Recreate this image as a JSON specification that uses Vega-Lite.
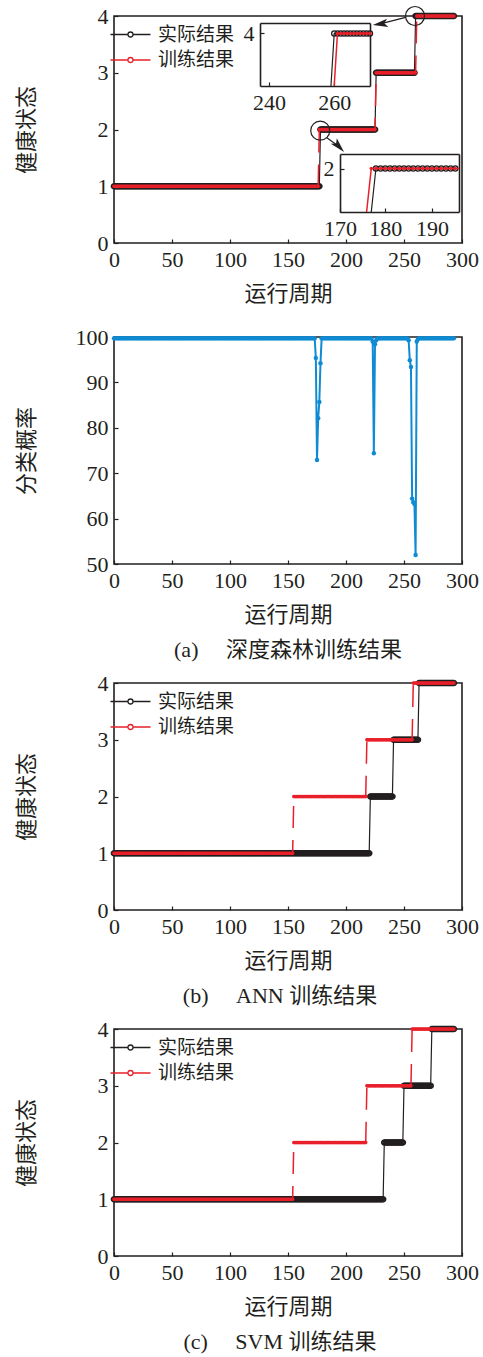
{
"$schema":"https://vega.github.io/schema/vega-lite/v6.json",
"background":"white",
"autosize":"pad",
"padding":{"left":14,"top":3,"right":5,"bottom":5},
"config":{
"view":{"stroke":"#231f20","strokeWidth":1.6},
"axis":{"labelFont":"Liberation Serif","labelFontSize":22,"labelColor":"#231f20","titleFont":"Noto Sans CJK SC","titleFontSize":22,"titleFontWeight":"normal","titleColor":"#231f20","tickColor":"#231f20","tickSize":-4,"tickWidth":1.2,"domain":false,"grid":false,"labelPadding":10,"labelFlush":false,"labelOverlap":false},
"legend":{"orient":"none","legendX":7,"legendY":9,"title":null,"padding":0,"labelFont":"Noto Sans CJK SC","labelFontSize":19,"labelColor":"#231f20","symbolType":"M-4,0H-0.5M0.5,0H4M-0.5,0A0.5,0.5,0,1,1,0.5,0A0.5,0.5,0,1,1,-0.5,0","symbolSize":100,"symbolStrokeWidth":1.3,"symbolOpacity":1,"symbolFillColor":"white","labelOffset":18,"rowPadding":5.5}
},
"datasets":{
"circ":[{"x":259.5,"y":4},{"x":177.8,"y":1.98}],
"arr":[{"x":251.4,"y":3.975,"x2":229.5,"y2":3.86},{"x":183.2,"y":1.86,"x2":193.9,"y2":1.7}],
"d":[
{"x":0,"a1":1,"t1":1,"a3":1,"t3":1,"a4":1,"t4":1,"p":99.7},
{"x":1,"a1":1,"t1":1,"a3":1,"t3":1,"a4":1,"t4":1,"p":99.7},
{"x":2,"a1":1,"t1":1,"a3":1,"t3":1,"a4":1,"t4":1,"p":99.7},
{"x":3,"a1":1,"t1":1,"a3":1,"t3":1,"a4":1,"t4":1,"p":99.7},
{"x":4,"a1":1,"t1":1,"a3":1,"t3":1,"a4":1,"t4":1,"p":99.7},
{"x":5,"a1":1,"t1":1,"a3":1,"t3":1,"a4":1,"t4":1,"p":99.7},
{"x":6,"a1":1,"t1":1,"a3":1,"t3":1,"a4":1,"t4":1,"p":99.7},
{"x":7,"a1":1,"t1":1,"a3":1,"t3":1,"a4":1,"t4":1,"p":99.7},
{"x":8,"a1":1,"t1":1,"a3":1,"t3":1,"a4":1,"t4":1,"p":99.7},
{"x":9,"a1":1,"t1":1,"a3":1,"t3":1,"a4":1,"t4":1,"p":99.7},
{"x":10,"a1":1,"t1":1,"a3":1,"t3":1,"a4":1,"t4":1,"p":99.7},
{"x":11,"a1":1,"t1":1,"a3":1,"t3":1,"a4":1,"t4":1,"p":99.7},
{"x":12,"a1":1,"t1":1,"a3":1,"t3":1,"a4":1,"t4":1,"p":99.7},
{"x":13,"a1":1,"t1":1,"a3":1,"t3":1,"a4":1,"t4":1,"p":99.7},
{"x":14,"a1":1,"t1":1,"a3":1,"t3":1,"a4":1,"t4":1,"p":99.7},
{"x":15,"a1":1,"t1":1,"a3":1,"t3":1,"a4":1,"t4":1,"p":99.7},
{"x":16,"a1":1,"t1":1,"a3":1,"t3":1,"a4":1,"t4":1,"p":99.7},
{"x":17,"a1":1,"t1":1,"a3":1,"t3":1,"a4":1,"t4":1,"p":99.7},
{"x":18,"a1":1,"t1":1,"a3":1,"t3":1,"a4":1,"t4":1,"p":99.7},
{"x":19,"a1":1,"t1":1,"a3":1,"t3":1,"a4":1,"t4":1,"p":99.7},
{"x":20,"a1":1,"t1":1,"a3":1,"t3":1,"a4":1,"t4":1,"p":99.7},
{"x":21,"a1":1,"t1":1,"a3":1,"t3":1,"a4":1,"t4":1,"p":99.7},
{"x":22,"a1":1,"t1":1,"a3":1,"t3":1,"a4":1,"t4":1,"p":99.7},
{"x":23,"a1":1,"t1":1,"a3":1,"t3":1,"a4":1,"t4":1,"p":99.7},
{"x":24,"a1":1,"t1":1,"a3":1,"t3":1,"a4":1,"t4":1,"p":99.7},
{"x":25,"a1":1,"t1":1,"a3":1,"t3":1,"a4":1,"t4":1,"p":99.7},
{"x":26,"a1":1,"t1":1,"a3":1,"t3":1,"a4":1,"t4":1,"p":99.7},
{"x":27,"a1":1,"t1":1,"a3":1,"t3":1,"a4":1,"t4":1,"p":99.7},
{"x":28,"a1":1,"t1":1,"a3":1,"t3":1,"a4":1,"t4":1,"p":99.7},
{"x":29,"a1":1,"t1":1,"a3":1,"t3":1,"a4":1,"t4":1,"p":99.7},
{"x":30,"a1":1,"t1":1,"a3":1,"t3":1,"a4":1,"t4":1,"p":99.7},
{"x":31,"a1":1,"t1":1,"a3":1,"t3":1,"a4":1,"t4":1,"p":99.7},
{"x":32,"a1":1,"t1":1,"a3":1,"t3":1,"a4":1,"t4":1,"p":99.7},
{"x":33,"a1":1,"t1":1,"a3":1,"t3":1,"a4":1,"t4":1,"p":99.7},
{"x":34,"a1":1,"t1":1,"a3":1,"t3":1,"a4":1,"t4":1,"p":99.7},
{"x":35,"a1":1,"t1":1,"a3":1,"t3":1,"a4":1,"t4":1,"p":99.7},
{"x":36,"a1":1,"t1":1,"a3":1,"t3":1,"a4":1,"t4":1,"p":99.7},
{"x":37,"a1":1,"t1":1,"a3":1,"t3":1,"a4":1,"t4":1,"p":99.7},
{"x":38,"a1":1,"t1":1,"a3":1,"t3":1,"a4":1,"t4":1,"p":99.7},
{"x":39,"a1":1,"t1":1,"a3":1,"t3":1,"a4":1,"t4":1,"p":99.7},
{"x":40,"a1":1,"t1":1,"a3":1,"t3":1,"a4":1,"t4":1,"p":99.7},
{"x":41,"a1":1,"t1":1,"a3":1,"t3":1,"a4":1,"t4":1,"p":99.7},
{"x":42,"a1":1,"t1":1,"a3":1,"t3":1,"a4":1,"t4":1,"p":99.7},
{"x":43,"a1":1,"t1":1,"a3":1,"t3":1,"a4":1,"t4":1,"p":99.7},
{"x":44,"a1":1,"t1":1,"a3":1,"t3":1,"a4":1,"t4":1,"p":99.7},
{"x":45,"a1":1,"t1":1,"a3":1,"t3":1,"a4":1,"t4":1,"p":99.7},
{"x":46,"a1":1,"t1":1,"a3":1,"t3":1,"a4":1,"t4":1,"p":99.7},
{"x":47,"a1":1,"t1":1,"a3":1,"t3":1,"a4":1,"t4":1,"p":99.7},
{"x":48,"a1":1,"t1":1,"a3":1,"t3":1,"a4":1,"t4":1,"p":99.7},
{"x":49,"a1":1,"t1":1,"a3":1,"t3":1,"a4":1,"t4":1,"p":99.7},
{"x":50,"a1":1,"t1":1,"a3":1,"t3":1,"a4":1,"t4":1,"p":99.7},
{"x":51,"a1":1,"t1":1,"a3":1,"t3":1,"a4":1,"t4":1,"p":99.7},
{"x":52,"a1":1,"t1":1,"a3":1,"t3":1,"a4":1,"t4":1,"p":99.7},
{"x":53,"a1":1,"t1":1,"a3":1,"t3":1,"a4":1,"t4":1,"p":99.7},
{"x":54,"a1":1,"t1":1,"a3":1,"t3":1,"a4":1,"t4":1,"p":99.7},
{"x":55,"a1":1,"t1":1,"a3":1,"t3":1,"a4":1,"t4":1,"p":99.7},
{"x":56,"a1":1,"t1":1,"a3":1,"t3":1,"a4":1,"t4":1,"p":99.7},
{"x":57,"a1":1,"t1":1,"a3":1,"t3":1,"a4":1,"t4":1,"p":99.7},
{"x":58,"a1":1,"t1":1,"a3":1,"t3":1,"a4":1,"t4":1,"p":99.7},
{"x":59,"a1":1,"t1":1,"a3":1,"t3":1,"a4":1,"t4":1,"p":99.7},
{"x":60,"a1":1,"t1":1,"a3":1,"t3":1,"a4":1,"t4":1,"p":99.7},
{"x":61,"a1":1,"t1":1,"a3":1,"t3":1,"a4":1,"t4":1,"p":99.7},
{"x":62,"a1":1,"t1":1,"a3":1,"t3":1,"a4":1,"t4":1,"p":99.7},
{"x":63,"a1":1,"t1":1,"a3":1,"t3":1,"a4":1,"t4":1,"p":99.7},
{"x":64,"a1":1,"t1":1,"a3":1,"t3":1,"a4":1,"t4":1,"p":99.7},
{"x":65,"a1":1,"t1":1,"a3":1,"t3":1,"a4":1,"t4":1,"p":99.7},
{"x":66,"a1":1,"t1":1,"a3":1,"t3":1,"a4":1,"t4":1,"p":99.7},
{"x":67,"a1":1,"t1":1,"a3":1,"t3":1,"a4":1,"t4":1,"p":99.7},
{"x":68,"a1":1,"t1":1,"a3":1,"t3":1,"a4":1,"t4":1,"p":99.7},
{"x":69,"a1":1,"t1":1,"a3":1,"t3":1,"a4":1,"t4":1,"p":99.7},
{"x":70,"a1":1,"t1":1,"a3":1,"t3":1,"a4":1,"t4":1,"p":99.7},
{"x":71,"a1":1,"t1":1,"a3":1,"t3":1,"a4":1,"t4":1,"p":99.7},
{"x":72,"a1":1,"t1":1,"a3":1,"t3":1,"a4":1,"t4":1,"p":99.7},
{"x":73,"a1":1,"t1":1,"a3":1,"t3":1,"a4":1,"t4":1,"p":99.7},
{"x":74,"a1":1,"t1":1,"a3":1,"t3":1,"a4":1,"t4":1,"p":99.7},
{"x":75,"a1":1,"t1":1,"a3":1,"t3":1,"a4":1,"t4":1,"p":99.7},
{"x":76,"a1":1,"t1":1,"a3":1,"t3":1,"a4":1,"t4":1,"p":99.7},
{"x":77,"a1":1,"t1":1,"a3":1,"t3":1,"a4":1,"t4":1,"p":99.7},
{"x":78,"a1":1,"t1":1,"a3":1,"t3":1,"a4":1,"t4":1,"p":99.7},
{"x":79,"a1":1,"t1":1,"a3":1,"t3":1,"a4":1,"t4":1,"p":99.7},
{"x":80,"a1":1,"t1":1,"a3":1,"t3":1,"a4":1,"t4":1,"p":99.7},
{"x":81,"a1":1,"t1":1,"a3":1,"t3":1,"a4":1,"t4":1,"p":99.7},
{"x":82,"a1":1,"t1":1,"a3":1,"t3":1,"a4":1,"t4":1,"p":99.7},
{"x":83,"a1":1,"t1":1,"a3":1,"t3":1,"a4":1,"t4":1,"p":99.7},
{"x":84,"a1":1,"t1":1,"a3":1,"t3":1,"a4":1,"t4":1,"p":99.7},
{"x":85,"a1":1,"t1":1,"a3":1,"t3":1,"a4":1,"t4":1,"p":99.7},
{"x":86,"a1":1,"t1":1,"a3":1,"t3":1,"a4":1,"t4":1,"p":99.7},
{"x":87,"a1":1,"t1":1,"a3":1,"t3":1,"a4":1,"t4":1,"p":99.7},
{"x":88,"a1":1,"t1":1,"a3":1,"t3":1,"a4":1,"t4":1,"p":99.7},
{"x":89,"a1":1,"t1":1,"a3":1,"t3":1,"a4":1,"t4":1,"p":99.7},
{"x":90,"a1":1,"t1":1,"a3":1,"t3":1,"a4":1,"t4":1,"p":99.7},
{"x":91,"a1":1,"t1":1,"a3":1,"t3":1,"a4":1,"t4":1,"p":99.7},
{"x":92,"a1":1,"t1":1,"a3":1,"t3":1,"a4":1,"t4":1,"p":99.7},
{"x":93,"a1":1,"t1":1,"a3":1,"t3":1,"a4":1,"t4":1,"p":99.7},
{"x":94,"a1":1,"t1":1,"a3":1,"t3":1,"a4":1,"t4":1,"p":99.7},
{"x":95,"a1":1,"t1":1,"a3":1,"t3":1,"a4":1,"t4":1,"p":99.7},
{"x":96,"a1":1,"t1":1,"a3":1,"t3":1,"a4":1,"t4":1,"p":99.7},
{"x":97,"a1":1,"t1":1,"a3":1,"t3":1,"a4":1,"t4":1,"p":99.7},
{"x":98,"a1":1,"t1":1,"a3":1,"t3":1,"a4":1,"t4":1,"p":99.7},
{"x":99,"a1":1,"t1":1,"a3":1,"t3":1,"a4":1,"t4":1,"p":99.7},
{"x":100,"a1":1,"t1":1,"a3":1,"t3":1,"a4":1,"t4":1,"p":99.7},
{"x":101,"a1":1,"t1":1,"a3":1,"t3":1,"a4":1,"t4":1,"p":99.7},
{"x":102,"a1":1,"t1":1,"a3":1,"t3":1,"a4":1,"t4":1,"p":99.7},
{"x":103,"a1":1,"t1":1,"a3":1,"t3":1,"a4":1,"t4":1,"p":99.7},
{"x":104,"a1":1,"t1":1,"a3":1,"t3":1,"a4":1,"t4":1,"p":99.7},
{"x":105,"a1":1,"t1":1,"a3":1,"t3":1,"a4":1,"t4":1,"p":99.7},
{"x":106,"a1":1,"t1":1,"a3":1,"t3":1,"a4":1,"t4":1,"p":99.7},
{"x":107,"a1":1,"t1":1,"a3":1,"t3":1,"a4":1,"t4":1,"p":99.7},
{"x":108,"a1":1,"t1":1,"a3":1,"t3":1,"a4":1,"t4":1,"p":99.7},
{"x":109,"a1":1,"t1":1,"a3":1,"t3":1,"a4":1,"t4":1,"p":99.7},
{"x":110,"a1":1,"t1":1,"a3":1,"t3":1,"a4":1,"t4":1,"p":99.7},
{"x":111,"a1":1,"t1":1,"a3":1,"t3":1,"a4":1,"t4":1,"p":99.7},
{"x":112,"a1":1,"t1":1,"a3":1,"t3":1,"a4":1,"t4":1,"p":99.7},
{"x":113,"a1":1,"t1":1,"a3":1,"t3":1,"a4":1,"t4":1,"p":99.7},
{"x":114,"a1":1,"t1":1,"a3":1,"t3":1,"a4":1,"t4":1,"p":99.7},
{"x":115,"a1":1,"t1":1,"a3":1,"t3":1,"a4":1,"t4":1,"p":99.7},
{"x":116,"a1":1,"t1":1,"a3":1,"t3":1,"a4":1,"t4":1,"p":99.7},
{"x":117,"a1":1,"t1":1,"a3":1,"t3":1,"a4":1,"t4":1,"p":99.7},
{"x":118,"a1":1,"t1":1,"a3":1,"t3":1,"a4":1,"t4":1,"p":99.7},
{"x":119,"a1":1,"t1":1,"a3":1,"t3":1,"a4":1,"t4":1,"p":99.7},
{"x":120,"a1":1,"t1":1,"a3":1,"t3":1,"a4":1,"t4":1,"p":99.7},
{"x":121,"a1":1,"t1":1,"a3":1,"t3":1,"a4":1,"t4":1,"p":99.7},
{"x":122,"a1":1,"t1":1,"a3":1,"t3":1,"a4":1,"t4":1,"p":99.7},
{"x":123,"a1":1,"t1":1,"a3":1,"t3":1,"a4":1,"t4":1,"p":99.7},
{"x":124,"a1":1,"t1":1,"a3":1,"t3":1,"a4":1,"t4":1,"p":99.7},
{"x":125,"a1":1,"t1":1,"a3":1,"t3":1,"a4":1,"t4":1,"p":99.7},
{"x":126,"a1":1,"t1":1,"a3":1,"t3":1,"a4":1,"t4":1,"p":99.7},
{"x":127,"a1":1,"t1":1,"a3":1,"t3":1,"a4":1,"t4":1,"p":99.7},
{"x":128,"a1":1,"t1":1,"a3":1,"t3":1,"a4":1,"t4":1,"p":99.7},
{"x":129,"a1":1,"t1":1,"a3":1,"t3":1,"a4":1,"t4":1,"p":99.7},
{"x":130,"a1":1,"t1":1,"a3":1,"t3":1,"a4":1,"t4":1,"p":99.7},
{"x":131,"a1":1,"t1":1,"a3":1,"t3":1,"a4":1,"t4":1,"p":99.7},
{"x":132,"a1":1,"t1":1,"a3":1,"t3":1,"a4":1,"t4":1,"p":99.7},
{"x":133,"a1":1,"t1":1,"a3":1,"t3":1,"a4":1,"t4":1,"p":99.7},
{"x":134,"a1":1,"t1":1,"a3":1,"t3":1,"a4":1,"t4":1,"p":99.7},
{"x":135,"a1":1,"t1":1,"a3":1,"t3":1,"a4":1,"t4":1,"p":99.7},
{"x":136,"a1":1,"t1":1,"a3":1,"t3":1,"a4":1,"t4":1,"p":99.7},
{"x":137,"a1":1,"t1":1,"a3":1,"t3":1,"a4":1,"t4":1,"p":99.7},
{"x":138,"a1":1,"t1":1,"a3":1,"t3":1,"a4":1,"t4":1,"p":99.7},
{"x":139,"a1":1,"t1":1,"a3":1,"t3":1,"a4":1,"t4":1,"p":99.7},
{"x":140,"a1":1,"t1":1,"a3":1,"t3":1,"a4":1,"t4":1,"p":99.7},
{"x":141,"a1":1,"t1":1,"a3":1,"t3":1,"a4":1,"t4":1,"p":99.7},
{"x":142,"a1":1,"t1":1,"a3":1,"t3":1,"a4":1,"t4":1,"p":99.7},
{"x":143,"a1":1,"t1":1,"a3":1,"t3":1,"a4":1,"t4":1,"p":99.7},
{"x":144,"a1":1,"t1":1,"a3":1,"t3":1,"a4":1,"t4":1,"p":99.7},
{"x":145,"a1":1,"t1":1,"a3":1,"t3":1,"a4":1,"t4":1,"p":99.7},
{"x":146,"a1":1,"t1":1,"a3":1,"t3":1,"a4":1,"t4":1,"p":99.7},
{"x":147,"a1":1,"t1":1,"a3":1,"t3":1,"a4":1,"t4":1,"p":99.7},
{"x":148,"a1":1,"t1":1,"a3":1,"t3":1,"a4":1,"t4":1,"p":99.7},
{"x":149,"a1":1,"t1":1,"a3":1,"t3":1,"a4":1,"t4":1,"p":99.7},
{"x":150,"a1":1,"t1":1,"a3":1,"t3":1,"a4":1,"t4":1,"p":99.7},
{"x":151,"a1":1,"t1":1,"a3":1,"t3":1,"a4":1,"t4":1,"p":99.7},
{"x":152,"a1":1,"t1":1,"a3":1,"t3":1,"a4":1,"t4":1,"p":99.7},
{"x":153,"a1":1,"t1":1,"a3":1,"t3":1,"a4":1,"t4":1,"p":99.7},
{"x":154,"a1":1,"t1":1,"a3":1,"t3":1,"a4":1,"t4":1,"p":99.7},
{"x":155,"a1":1,"t1":1,"a3":1,"t3":2,"a4":1,"t4":2,"p":99.7},
{"x":156,"a1":1,"t1":1,"a3":1,"t3":2,"a4":1,"t4":2,"p":99.7},
{"x":157,"a1":1,"t1":1,"a3":1,"t3":2,"a4":1,"t4":2,"p":99.7},
{"x":158,"a1":1,"t1":1,"a3":1,"t3":2,"a4":1,"t4":2,"p":99.7},
{"x":159,"a1":1,"t1":1,"a3":1,"t3":2,"a4":1,"t4":2,"p":99.7},
{"x":160,"a1":1,"t1":1,"a3":1,"t3":2,"a4":1,"t4":2,"p":99.7},
{"x":161,"a1":1,"t1":1,"a3":1,"t3":2,"a4":1,"t4":2,"p":99.7},
{"x":162,"a1":1,"t1":1,"a3":1,"t3":2,"a4":1,"t4":2,"p":99.7},
{"x":163,"a1":1,"t1":1,"a3":1,"t3":2,"a4":1,"t4":2,"p":99.7},
{"x":164,"a1":1,"t1":1,"a3":1,"t3":2,"a4":1,"t4":2,"p":99.7},
{"x":165,"a1":1,"t1":1,"a3":1,"t3":2,"a4":1,"t4":2,"p":99.7},
{"x":166,"a1":1,"t1":1,"a3":1,"t3":2,"a4":1,"t4":2,"p":99.7},
{"x":167,"a1":1,"t1":1,"a3":1,"t3":2,"a4":1,"t4":2,"p":99.7},
{"x":168,"a1":1,"t1":1,"a3":1,"t3":2,"a4":1,"t4":2,"p":99.7},
{"x":169,"a1":1,"t1":1,"a3":1,"t3":2,"a4":1,"t4":2,"p":99.7},
{"x":170,"a1":1,"t1":1,"a3":1,"t3":2,"a4":1,"t4":2,"p":99.7},
{"x":171,"a1":1,"t1":1,"a3":1,"t3":2,"a4":1,"t4":2,"p":99.7},
{"x":172,"a1":1,"t1":1,"a3":1,"t3":2,"a4":1,"t4":2,"p":99.7},
{"x":173,"a1":1,"t1":1,"a3":1,"t3":2,"a4":1,"t4":2,"p":99.7},
{"x":174,"a1":1,"t1":1,"a3":1,"t3":2,"a4":1,"t4":2,"p":95.4},
{"x":175,"a1":1,"t1":1,"a3":1,"t3":2,"a4":1,"t4":2,"p":72.9},
{"x":176,"a1":1,"t1":1,"a3":1,"t3":2,"a4":1,"t4":2,"p":82.1},
{"x":177,"a1":1,"t1":2,"a3":1,"t3":2,"a4":1,"t4":2,"p":85.7},
{"x":178,"a1":2,"t1":2,"a3":1,"t3":2,"a4":1,"t4":2,"p":94.2},
{"x":179,"a1":2,"t1":2,"a3":1,"t3":2,"a4":1,"t4":2,"p":99.7},
{"x":180,"a1":2,"t1":2,"a3":1,"t3":2,"a4":1,"t4":2,"p":99.7},
{"x":181,"a1":2,"t1":2,"a3":1,"t3":2,"a4":1,"t4":2,"p":99.7},
{"x":182,"a1":2,"t1":2,"a3":1,"t3":2,"a4":1,"t4":2,"p":99.7},
{"x":183,"a1":2,"t1":2,"a3":1,"t3":2,"a4":1,"t4":2,"p":99.7},
{"x":184,"a1":2,"t1":2,"a3":1,"t3":2,"a4":1,"t4":2,"p":99.7},
{"x":185,"a1":2,"t1":2,"a3":1,"t3":2,"a4":1,"t4":2,"p":99.7},
{"x":186,"a1":2,"t1":2,"a3":1,"t3":2,"a4":1,"t4":2,"p":99.7},
{"x":187,"a1":2,"t1":2,"a3":1,"t3":2,"a4":1,"t4":2,"p":99.7},
{"x":188,"a1":2,"t1":2,"a3":1,"t3":2,"a4":1,"t4":2,"p":99.7},
{"x":189,"a1":2,"t1":2,"a3":1,"t3":2,"a4":1,"t4":2,"p":99.7},
{"x":190,"a1":2,"t1":2,"a3":1,"t3":2,"a4":1,"t4":2,"p":99.7},
{"x":191,"a1":2,"t1":2,"a3":1,"t3":2,"a4":1,"t4":2,"p":99.7},
{"x":192,"a1":2,"t1":2,"a3":1,"t3":2,"a4":1,"t4":2,"p":99.7},
{"x":193,"a1":2,"t1":2,"a3":1,"t3":2,"a4":1,"t4":2,"p":99.7},
{"x":194,"a1":2,"t1":2,"a3":1,"t3":2,"a4":1,"t4":2,"p":99.7},
{"x":195,"a1":2,"t1":2,"a3":1,"t3":2,"a4":1,"t4":2,"p":99.7},
{"x":196,"a1":2,"t1":2,"a3":1,"t3":2,"a4":1,"t4":2,"p":99.7},
{"x":197,"a1":2,"t1":2,"a3":1,"t3":2,"a4":1,"t4":2,"p":99.7},
{"x":198,"a1":2,"t1":2,"a3":1,"t3":2,"a4":1,"t4":2,"p":99.7},
{"x":199,"a1":2,"t1":2,"a3":1,"t3":2,"a4":1,"t4":2,"p":99.7},
{"x":200,"a1":2,"t1":2,"a3":1,"t3":2,"a4":1,"t4":2,"p":99.7},
{"x":201,"a1":2,"t1":2,"a3":1,"t3":2,"a4":1,"t4":2,"p":99.7},
{"x":202,"a1":2,"t1":2,"a3":1,"t3":2,"a4":1,"t4":2,"p":99.7},
{"x":203,"a1":2,"t1":2,"a3":1,"t3":2,"a4":1,"t4":2,"p":99.7},
{"x":204,"a1":2,"t1":2,"a3":1,"t3":2,"a4":1,"t4":2,"p":99.7},
{"x":205,"a1":2,"t1":2,"a3":1,"t3":2,"a4":1,"t4":2,"p":99.7},
{"x":206,"a1":2,"t1":2,"a3":1,"t3":2,"a4":1,"t4":2,"p":99.7},
{"x":207,"a1":2,"t1":2,"a3":1,"t3":2,"a4":1,"t4":2,"p":99.7},
{"x":208,"a1":2,"t1":2,"a3":1,"t3":2,"a4":1,"t4":2,"p":99.7},
{"x":209,"a1":2,"t1":2,"a3":1,"t3":2,"a4":1,"t4":2,"p":99.7},
{"x":210,"a1":2,"t1":2,"a3":1,"t3":2,"a4":1,"t4":2,"p":99.7},
{"x":211,"a1":2,"t1":2,"a3":1,"t3":2,"a4":1,"t4":2,"p":99.7},
{"x":212,"a1":2,"t1":2,"a3":1,"t3":2,"a4":1,"t4":2,"p":99.7},
{"x":213,"a1":2,"t1":2,"a3":1,"t3":2,"a4":1,"t4":2,"p":99.7},
{"x":214,"a1":2,"t1":2,"a3":1,"t3":2,"a4":1,"t4":2,"p":99.7},
{"x":215,"a1":2,"t1":2,"a3":1,"t3":2,"a4":1,"t4":2,"p":99.7},
{"x":216,"a1":2,"t1":2,"a3":1,"t3":2,"a4":1,"t4":2,"p":99.7},
{"x":217,"a1":2,"t1":2,"a3":1,"t3":2,"a4":1,"t4":2,"p":99.7},
{"x":218,"a1":2,"t1":2,"a3":1,"t3":3,"a4":1,"t4":3,"p":99.7},
{"x":219,"a1":2,"t1":2,"a3":1,"t3":3,"a4":1,"t4":3,"p":99.7},
{"x":220,"a1":2,"t1":2,"a3":1,"t3":3,"a4":1,"t4":3,"p":99.7},
{"x":221,"a1":2,"t1":2,"a3":2,"t3":3,"a4":1,"t4":3,"p":99.7},
{"x":222,"a1":2,"t1":2,"a3":2,"t3":3,"a4":1,"t4":3,"p":99.7},
{"x":223,"a1":2,"t1":2,"a3":2,"t3":3,"a4":1,"t4":3,"p":99.0},
{"x":224,"a1":2,"t1":2,"a3":2,"t3":3,"a4":1,"t4":3,"p":74.4},
{"x":225,"a1":2,"t1":2,"a3":2,"t3":3,"a4":1,"t4":3,"p":98.4},
{"x":226,"a1":3,"t1":3,"a3":2,"t3":3,"a4":1,"t4":3,"p":99.3},
{"x":227,"a1":3,"t1":3,"a3":2,"t3":3,"a4":1,"t4":3,"p":99.7},
{"x":228,"a1":3,"t1":3,"a3":2,"t3":3,"a4":1,"t4":3,"p":99.7},
{"x":229,"a1":3,"t1":3,"a3":2,"t3":3,"a4":1,"t4":3,"p":99.7},
{"x":230,"a1":3,"t1":3,"a3":2,"t3":3,"a4":1,"t4":3,"p":99.7},
{"x":231,"a1":3,"t1":3,"a3":2,"t3":3,"a4":1,"t4":3,"p":99.7},
{"x":232,"a1":3,"t1":3,"a3":2,"t3":3,"a4":1,"t4":3,"p":99.7},
{"x":233,"a1":3,"t1":3,"a3":2,"t3":3,"a4":2,"t4":3,"p":99.7},
{"x":234,"a1":3,"t1":3,"a3":2,"t3":3,"a4":2,"t4":3,"p":99.7},
{"x":235,"a1":3,"t1":3,"a3":2,"t3":3,"a4":2,"t4":3,"p":99.7},
{"x":236,"a1":3,"t1":3,"a3":2,"t3":3,"a4":2,"t4":3,"p":99.7},
{"x":237,"a1":3,"t1":3,"a3":2,"t3":3,"a4":2,"t4":3,"p":99.7},
{"x":238,"a1":3,"t1":3,"a3":2,"t3":3,"a4":2,"t4":3,"p":99.7},
{"x":239,"a1":3,"t1":3,"a3":2,"t3":3,"a4":2,"t4":3,"p":99.7},
{"x":240,"a1":3,"t1":3,"a3":2,"t3":3,"a4":2,"t4":3,"p":99.7},
{"x":241,"a1":3,"t1":3,"a3":3,"t3":3,"a4":2,"t4":3,"p":99.7},
{"x":242,"a1":3,"t1":3,"a3":3,"t3":3,"a4":2,"t4":3,"p":99.7},
{"x":243,"a1":3,"t1":3,"a3":3,"t3":3,"a4":2,"t4":3,"p":99.7},
{"x":244,"a1":3,"t1":3,"a3":3,"t3":3,"a4":2,"t4":3,"p":99.7},
{"x":245,"a1":3,"t1":3,"a3":3,"t3":3,"a4":2,"t4":3,"p":99.7},
{"x":246,"a1":3,"t1":3,"a3":3,"t3":3,"a4":2,"t4":3,"p":99.7},
{"x":247,"a1":3,"t1":3,"a3":3,"t3":3,"a4":2,"t4":3,"p":99.7},
{"x":248,"a1":3,"t1":3,"a3":3,"t3":3,"a4":2,"t4":3,"p":99.7},
{"x":249,"a1":3,"t1":3,"a3":3,"t3":3,"a4":2,"t4":3,"p":99.7},
{"x":250,"a1":3,"t1":3,"a3":3,"t3":3,"a4":3,"t4":3,"p":99.7},
{"x":251,"a1":3,"t1":3,"a3":3,"t3":3,"a4":3,"t4":3,"p":99.7},
{"x":252,"a1":3,"t1":3,"a3":3,"t3":3,"a4":3,"t4":3,"p":99.7},
{"x":253,"a1":3,"t1":3,"a3":3,"t3":3,"a4":3,"t4":3,"p":99.7},
{"x":254,"a1":3,"t1":3,"a3":3,"t3":3,"a4":3,"t4":3,"p":99.3},
{"x":255,"a1":3,"t1":3,"a3":3,"t3":3,"a4":3,"t4":3,"p":94.9},
{"x":256,"a1":3,"t1":3,"a3":3,"t3":3,"a4":3,"t4":3,"p":93.4},
{"x":257,"a1":3,"t1":3,"a3":3,"t3":3,"a4":3,"t4":4,"p":64.4},
{"x":258,"a1":3,"t1":3,"a3":3,"t3":4,"a4":3,"t4":4,"p":63.6},
{"x":259,"a1":3,"t1":3,"a3":3,"t3":4,"a4":3,"t4":4,"p":63.2},
{"x":260,"a1":4,"t1":3,"a3":3,"t3":4,"a4":3,"t4":4,"p":52.0},
{"x":261,"a1":4,"t1":4,"a3":3,"t3":4,"a4":3,"t4":4,"p":99.0},
{"x":262,"a1":4,"t1":4,"a3":3,"t3":4,"a4":3,"t4":4,"p":99.5},
{"x":263,"a1":4,"t1":4,"a3":4,"t3":4,"a4":3,"t4":4,"p":99.7},
{"x":264,"a1":4,"t1":4,"a3":4,"t3":4,"a4":3,"t4":4,"p":99.7},
{"x":265,"a1":4,"t1":4,"a3":4,"t3":4,"a4":3,"t4":4,"p":99.7},
{"x":266,"a1":4,"t1":4,"a3":4,"t3":4,"a4":3,"t4":4,"p":99.7},
{"x":267,"a1":4,"t1":4,"a3":4,"t3":4,"a4":3,"t4":4,"p":99.7},
{"x":268,"a1":4,"t1":4,"a3":4,"t3":4,"a4":3,"t4":4,"p":99.7},
{"x":269,"a1":4,"t1":4,"a3":4,"t3":4,"a4":3,"t4":4,"p":99.7},
{"x":270,"a1":4,"t1":4,"a3":4,"t3":4,"a4":3,"t4":4,"p":99.7},
{"x":271,"a1":4,"t1":4,"a3":4,"t3":4,"a4":3,"t4":4,"p":99.7},
{"x":272,"a1":4,"t1":4,"a3":4,"t3":4,"a4":3,"t4":4,"p":99.7},
{"x":273,"a1":4,"t1":4,"a3":4,"t3":4,"a4":3,"t4":4,"p":99.7},
{"x":274,"a1":4,"t1":4,"a3":4,"t3":4,"a4":4,"t4":4,"p":99.7},
{"x":275,"a1":4,"t1":4,"a3":4,"t3":4,"a4":4,"t4":4,"p":99.7},
{"x":276,"a1":4,"t1":4,"a3":4,"t3":4,"a4":4,"t4":4,"p":99.7},
{"x":277,"a1":4,"t1":4,"a3":4,"t3":4,"a4":4,"t4":4,"p":99.7},
{"x":278,"a1":4,"t1":4,"a3":4,"t3":4,"a4":4,"t4":4,"p":99.7},
{"x":279,"a1":4,"t1":4,"a3":4,"t3":4,"a4":4,"t4":4,"p":99.7},
{"x":280,"a1":4,"t1":4,"a3":4,"t3":4,"a4":4,"t4":4,"p":99.7},
{"x":281,"a1":4,"t1":4,"a3":4,"t3":4,"a4":4,"t4":4,"p":99.7},
{"x":282,"a1":4,"t1":4,"a3":4,"t3":4,"a4":4,"t4":4,"p":99.7},
{"x":283,"a1":4,"t1":4,"a3":4,"t3":4,"a4":4,"t4":4,"p":99.7},
{"x":284,"a1":4,"t1":4,"a3":4,"t3":4,"a4":4,"t4":4,"p":99.7},
{"x":285,"a1":4,"t1":4,"a3":4,"t3":4,"a4":4,"t4":4,"p":99.7},
{"x":286,"a1":4,"t1":4,"a3":4,"t3":4,"a4":4,"t4":4,"p":99.7},
{"x":287,"a1":4,"t1":4,"a3":4,"t3":4,"a4":4,"t4":4,"p":99.7},
{"x":288,"a1":4,"t1":4,"a3":4,"t3":4,"a4":4,"t4":4,"p":99.7},
{"x":289,"a1":4,"t1":4,"a3":4,"t3":4,"a4":4,"t4":4,"p":99.7},
{"x":290,"a1":4,"t1":4,"a3":4,"t3":4,"a4":4,"t4":4,"p":99.7},
{"x":291,"a1":4,"t1":4,"a3":4,"t3":4,"a4":4,"t4":4,"p":99.7},
{"x":292,"a1":4,"t1":4,"a3":4,"t3":4,"a4":4,"t4":4,"p":99.7},
{"x":293,"a1":4,"t1":4,"a3":4,"t3":4,"a4":4,"t4":4,"p":99.7}
]},
"spacing":94,
"bounds":"flush",
"resolve":{"scale":{"color":"independent"},"legend":{"color":"independent"}},
"vconcat":[
{
"width":348,"height":227,
"data":{"name":"d"},
"resolve":{"scale":{"x":"independent","y":"independent"}},
"layer":[
{
"encoding":{"x":{"field":"x","type":"quantitative","scale":{"domain":[0,300],"nice":false,"zero":false},"axis":{"title":"运行周期","values":[0,50,100,150,200,250,300],"titleY":50,"titleBaseline":"middle"}}},
"layer":[
{"mark":{"type":"line","color":"#231f20","strokeWidth":1.2},"encoding":{"y":{"field":"a1","type":"quantitative","scale":{"domain":[0,4],"nice":false},"axis":{"title":"健康状态","values":[0,1,2,3,4],"titleX":-88,"titleY":113.5,"titleBaseline":"middle","titleAlign":"center","titleAngle":270}}}},
{"mark":{"type":"point","filled":false,"size":26,"strokeWidth":1.6,"opacity":1},"encoding":{"y":{"field":"a1","type":"quantitative","scale":{"domain":[0,4],"nice":false},"axis":{"title":"健康状态","values":[0,1,2,3,4],"titleX":-88,"titleY":113.5,"titleBaseline":"middle","titleAlign":"center","titleAngle":270}},"color":{"datum":"实际结果","type":"nominal","scale":{"domain":["实际结果","训练结果"],"range":["#231f20","#e8202a"]}}}},
{"mark":{"type":"line","color":"#e8202a","strokeWidth":1.5,"strokeDash":[22,12]},"encoding":{"y":{"field":"t1","type":"quantitative","scale":{"domain":[0,4],"nice":false},"axis":{"title":"健康状态","values":[0,1,2,3,4],"titleX":-88,"titleY":113.5,"titleBaseline":"middle","titleAlign":"center","titleAngle":270}}}},
{"mark":{"type":"point","filled":false,"size":3,"strokeWidth":1.8,"opacity":1},"encoding":{"y":{"field":"t1","type":"quantitative","scale":{"domain":[0,4],"nice":false},"axis":{"title":"健康状态","values":[0,1,2,3,4],"titleX":-88,"titleY":113.5,"titleBaseline":"middle","titleAlign":"center","titleAngle":270}},"color":{"datum":"训练结果","type":"nominal","scale":{"domain":["实际结果","训练结果"],"range":["#231f20","#e8202a"]}}}},
{"data":{"name":"circ"},"mark":{"type":"point","shape":"circle","filled":false,"size":361,"color":"#231f20","strokeWidth":1.2,"opacity":1},"encoding":{"y":{"field":"y","type":"quantitative","scale":{"domain":[0,4],"nice":false},"axis":{"title":"健康状态","values":[0,1,2,3,4],"titleX":-88,"titleY":113.5,"titleBaseline":"middle","titleAlign":"center","titleAngle":270}}}},
{"data":{"name":"arr"},"mark":{"type":"rule","color":"#231f20","strokeWidth":1.2},"encoding":{"y":{"field":"y","type":"quantitative","scale":{"domain":[0,4],"nice":false},"axis":{"title":"健康状态","values":[0,1,2,3,4],"titleX":-88,"titleY":113.5,"titleBaseline":"middle","titleAlign":"center","titleAngle":270}},"x2":{"field":"x2"},"y2":{"field":"y2"}}},
{"data":{"name":"arr"},"transform":[{"filter":"datum.y > 3"}],"mark":{"type":"point","shape":"M1,0L-1,-0.55L-0.55,0L-1,0.55Z","filled":true,"color":"#231f20","size":225,"angle":171.4,"opacity":1},"encoding":{"x":{"field":"x2","type":"quantitative","scale":{"domain":[0,300],"nice":false,"zero":false},"axis":{"title":"运行周期","values":[0,50,100,150,200,250,300],"titleY":50,"titleBaseline":"middle"}},"y":{"field":"y2","type":"quantitative","scale":{"domain":[0,4],"nice":false},"axis":{"title":"健康状态","values":[0,1,2,3,4],"titleX":-88,"titleY":113.5,"titleBaseline":"middle","titleAlign":"center","titleAngle":270}}}},
{"data":{"name":"arr"},"transform":[{"filter":"datum.y < 3"}],"mark":{"type":"point","shape":"M1,0L-1,-0.55L-0.55,0L-1,0.55Z","filled":true,"color":"#231f20","size":225,"angle":47,"opacity":1},"encoding":{"x":{"field":"x2","type":"quantitative","scale":{"domain":[0,300],"nice":false,"zero":false},"axis":{"title":"运行周期","values":[0,50,100,150,200,250,300],"titleY":50,"titleBaseline":"middle"}},"y":{"field":"y2","type":"quantitative","scale":{"domain":[0,4],"nice":false},"axis":{"title":"健康状态","values":[0,1,2,3,4],"titleX":-88,"titleY":113.5,"titleBaseline":"middle","titleAlign":"center","titleAngle":270}}}}
]
},
{
"resolve":{"scale":{"x":"independent","y":"independent"}},
"layer":[
{
"encoding":{"x":{"field":"x","type":"quantitative","scale":{"domain":[237.2,271],"range":[146,256],"clamp":true,"nice":false,"zero":false},"axis":{"orient":"bottom","offset":-157,"values":[240,260],"title":null,"domain":true,"domainColor":"#231f20","domainWidth":1.6}}},
"layer":[
{"transform":[{"filter":{"field":"x","range":[259,271]}}],"mark":{"type":"line","color":"#231f20","strokeWidth":1.2},"encoding":{"y":{"field":"a1","type":"quantitative","scale":{"domain":[3.7,4.06],"range":[70,7],"clamp":true,"nice":false,"zero":false},"axis":{"orient":"left","offset":-146,"values":[4],"format":"d","title":null,"domain":true,"domainColor":"#231f20","domainWidth":1.6}}}},
{"transform":[{"filter":{"field":"x","range":[260,271]}}],"mark":{"type":"point","filled":false,"size":26,"strokeWidth":1.3,"color":"#231f20","opacity":1},"encoding":{"y":{"field":"a1","type":"quantitative","scale":{"domain":[3.7,4.06],"range":[70,7],"clamp":true,"nice":false,"zero":false},"axis":{"orient":"left","offset":-146,"values":[4],"format":"d","title":null,"domain":true,"domainColor":"#231f20","domainWidth":1.6}}}},
{"transform":[{"filter":{"field":"x","range":[260,271]}}],"mark":{"type":"line","color":"#e8202a","strokeWidth":1.5},"encoding":{"y":{"field":"t1","type":"quantitative","scale":{"domain":[3.7,4.06],"range":[70,7],"clamp":true,"nice":false,"zero":false},"axis":{"orient":"left","offset":-146,"values":[4],"format":"d","title":null,"domain":true,"domainColor":"#231f20","domainWidth":1.6}}}},
{"transform":[{"filter":{"field":"x","range":[261,271]}}],"mark":{"type":"point","filled":true,"size":11,"color":"#e8202a","opacity":1},"encoding":{"y":{"field":"t1","type":"quantitative","scale":{"domain":[3.7,4.06],"range":[70,7],"clamp":true,"nice":false,"zero":false},"axis":{"orient":"left","offset":-146,"values":[4],"format":"d","title":null,"domain":true,"domainColor":"#231f20","domainWidth":1.6}}}}
]
},
{"transform":[{"filter":{"field":"x","range":[259,271]}}],"mark":{"type":"line","opacity":0},"encoding":{"x":{"field":"x","type":"quantitative","scale":{"domain":[237.2,271],"range":[146,256],"clamp":true,"nice":false,"zero":false},"axis":{"orient":"top","offset":-7,"labels":false,"ticks":false,"title":null,"domain":true,"domainColor":"#231f20","domainWidth":1.6}},"y":{"field":"a1","type":"quantitative","scale":{"domain":[3.7,4.06],"range":[70,7],"clamp":true,"nice":false,"zero":false},"axis":{"orient":"right","offset":-92,"labels":false,"ticks":false,"title":null,"domain":true,"domainColor":"#231f20","domainWidth":1.6}}}}
]
},
{
"resolve":{"scale":{"x":"independent","y":"independent"}},
"layer":[
{
"encoding":{"x":{"field":"x","type":"quantitative","scale":{"domain":[170.3,195.8],"range":[226,345],"clamp":true,"nice":false,"zero":false},"axis":{"orient":"bottom","offset":-31,"values":[170,180,190],"title":null,"domain":true,"domainColor":"#231f20","domainWidth":1.6}}},
"layer":[
{"transform":[{"filter":{"field":"x","range":[177,196]}}],"mark":{"type":"line","color":"#231f20","strokeWidth":1.2},"encoding":{"y":{"field":"a1","type":"quantitative","scale":{"domain":[1.7,2.1],"range":[196,138],"clamp":true,"nice":false,"zero":false},"axis":{"orient":"left","offset":-226,"values":[2],"format":"d","title":null,"domain":true,"domainColor":"#231f20","domainWidth":1.6}}}},
{"transform":[{"filter":{"field":"x","range":[178,195]}}],"mark":{"type":"point","filled":false,"size":26,"strokeWidth":1.3,"color":"#231f20","opacity":1},"encoding":{"y":{"field":"a1","type":"quantitative","scale":{"domain":[1.7,2.1],"range":[196,138],"clamp":true,"nice":false,"zero":false},"axis":{"orient":"left","offset":-226,"values":[2],"format":"d","title":null,"domain":true,"domainColor":"#231f20","domainWidth":1.6}}}},
{"transform":[{"filter":{"field":"x","range":[176,196]}}],"mark":{"type":"line","color":"#e8202a","strokeWidth":1.5},"encoding":{"y":{"field":"t1","type":"quantitative","scale":{"domain":[1.7,2.1],"range":[196,138],"clamp":true,"nice":false,"zero":false},"axis":{"orient":"left","offset":-226,"values":[2],"format":"d","title":null,"domain":true,"domainColor":"#231f20","domainWidth":1.6}}}},
{"transform":[{"filter":{"field":"x","range":[177,195]}}],"mark":{"type":"point","filled":true,"size":11,"color":"#e8202a","opacity":1},"encoding":{"y":{"field":"t1","type":"quantitative","scale":{"domain":[1.7,2.1],"range":[196,138],"clamp":true,"nice":false,"zero":false},"axis":{"orient":"left","offset":-226,"values":[2],"format":"d","title":null,"domain":true,"domainColor":"#231f20","domainWidth":1.6}}}}
]
},
{"transform":[{"filter":{"field":"x","range":[177,196]}}],"mark":{"type":"line","opacity":0},"encoding":{"x":{"field":"x","type":"quantitative","scale":{"domain":[170.3,195.8],"range":[226,345],"clamp":true,"nice":false,"zero":false},"axis":{"orient":"top","offset":-138,"labels":false,"ticks":false,"title":null,"domain":true,"domainColor":"#231f20","domainWidth":1.6}},"y":{"field":"a1","type":"quantitative","scale":{"domain":[1.7,2.1],"range":[196,138],"clamp":true,"nice":false,"zero":false},"axis":{"orient":"right","offset":-3,"labels":false,"ticks":false,"title":null,"domain":true,"domainColor":"#231f20","domainWidth":1.6}}}}
]
}
]
},
{
"spacing":119,
"bounds":"flush",
"resolve":{"scale":{"color":"independent"},"legend":{"color":"independent"}},
"vconcat":[
{
"width":348,"height":227,
"data":{"name":"d"},
"title":{"text":"(a)\u00a0\u00a0\u00a0\u00a0\u00a0深度森林训练结果","orient":"bottom","offset":15,"font":"Liberation Serif, Noto Sans CJK SC","fontSize":22,"fontWeight":"normal","color":"#231f20","anchor":"middle"},
"encoding":{"x":{"field":"x","type":"quantitative","scale":{"domain":[0,300],"nice":false,"zero":false},"axis":{"title":"运行周期","values":[0,50,100,150,200,250,300],"titleY":50,"titleBaseline":"middle"}},"y":{"field":"p","type":"quantitative","scale":{"domain":[50,100],"nice":false,"zero":false},"axis":{"title":"分类概率","values":[50,60,70,80,90,100],"titleX":-88,"titleY":113.5,"titleBaseline":"middle","titleAlign":"center","titleAngle":270}}},
"layer":[
{"mark":{"type":"line","color":"#0f8bd3","strokeWidth":2}},
{"mark":{"type":"point","filled":true,"color":"#0f8bd3","size":20,"opacity":1}}
]
},
{
"width":348,"height":227,
"data":{"name":"d"},
"title":{"text":"(b)\u00a0\u00a0\u00a0\u00a0\u00a0ANN 训练结果","orient":"bottom","offset":15,"dx":-8,"font":"Liberation Serif, Noto Sans CJK SC","fontSize":22,"fontWeight":"normal","color":"#231f20","anchor":"middle"},
"encoding":{"x":{"field":"x","type":"quantitative","scale":{"domain":[0,300],"nice":false,"zero":false},"axis":{"title":"运行周期","values":[0,50,100,150,200,250,300],"titleY":50,"titleBaseline":"middle"}}},
"layer":[
{"mark":{"type":"line","color":"#231f20","strokeWidth":1.2},"encoding":{"y":{"field":"a3","type":"quantitative","scale":{"domain":[0,4],"nice":false},"axis":{"title":"健康状态","values":[0,1,2,3,4],"titleX":-88,"titleY":113.5,"titleBaseline":"middle","titleAlign":"center","titleAngle":270}}}},
{"mark":{"type":"point","filled":false,"size":26,"strokeWidth":1.6,"opacity":1},"encoding":{"y":{"field":"a3","type":"quantitative","scale":{"domain":[0,4],"nice":false},"axis":{"title":"健康状态","values":[0,1,2,3,4],"titleX":-88,"titleY":113.5,"titleBaseline":"middle","titleAlign":"center","titleAngle":270}},"color":{"datum":"实际结果","type":"nominal","scale":{"domain":["实际结果","训练结果"],"range":["#231f20","#e8202a"]}}}},
{"mark":{"type":"line","color":"#e8202a","strokeWidth":1.5,"strokeDash":[22,12]},"encoding":{"y":{"field":"t3","type":"quantitative","scale":{"domain":[0,4],"nice":false},"axis":{"title":"健康状态","values":[0,1,2,3,4],"titleX":-88,"titleY":113.5,"titleBaseline":"middle","titleAlign":"center","titleAngle":270}}}},
{"mark":{"type":"point","filled":false,"size":3,"strokeWidth":1.8,"opacity":1},"encoding":{"y":{"field":"t3","type":"quantitative","scale":{"domain":[0,4],"nice":false},"axis":{"title":"健康状态","values":[0,1,2,3,4],"titleX":-88,"titleY":113.5,"titleBaseline":"middle","titleAlign":"center","titleAngle":270}},"color":{"datum":"训练结果","type":"nominal","scale":{"domain":["实际结果","训练结果"],"range":["#231f20","#e8202a"]}}}}
]
},
{
"width":348,"height":227,
"data":{"name":"d"},
"title":{"text":"(c)\u00a0\u00a0\u00a0\u00a0\u00a0SVM 训练结果","orient":"bottom","offset":15,"dx":-8,"font":"Liberation Serif, Noto Sans CJK SC","fontSize":22,"fontWeight":"normal","color":"#231f20","anchor":"middle"},
"encoding":{"x":{"field":"x","type":"quantitative","scale":{"domain":[0,300],"nice":false,"zero":false},"axis":{"title":"运行周期","values":[0,50,100,150,200,250,300],"titleY":50,"titleBaseline":"middle"}}},
"layer":[
{"mark":{"type":"line","color":"#231f20","strokeWidth":1.2},"encoding":{"y":{"field":"a4","type":"quantitative","scale":{"domain":[0,4],"nice":false},"axis":{"title":"健康状态","values":[0,1,2,3,4],"titleX":-88,"titleY":113.5,"titleBaseline":"middle","titleAlign":"center","titleAngle":270}}}},
{"mark":{"type":"point","filled":false,"size":26,"strokeWidth":1.6,"opacity":1},"encoding":{"y":{"field":"a4","type":"quantitative","scale":{"domain":[0,4],"nice":false},"axis":{"title":"健康状态","values":[0,1,2,3,4],"titleX":-88,"titleY":113.5,"titleBaseline":"middle","titleAlign":"center","titleAngle":270}},"color":{"datum":"实际结果","type":"nominal","scale":{"domain":["实际结果","训练结果"],"range":["#231f20","#e8202a"]}}}},
{"mark":{"type":"line","color":"#e8202a","strokeWidth":1.5,"strokeDash":[22,12]},"encoding":{"y":{"field":"t4","type":"quantitative","scale":{"domain":[0,4],"nice":false},"axis":{"title":"健康状态","values":[0,1,2,3,4],"titleX":-88,"titleY":113.5,"titleBaseline":"middle","titleAlign":"center","titleAngle":270}}}},
{"mark":{"type":"point","filled":false,"size":3,"strokeWidth":1.8,"opacity":1},"encoding":{"y":{"field":"t4","type":"quantitative","scale":{"domain":[0,4],"nice":false},"axis":{"title":"健康状态","values":[0,1,2,3,4],"titleX":-88,"titleY":113.5,"titleBaseline":"middle","titleAlign":"center","titleAngle":270}},"color":{"datum":"训练结果","type":"nominal","scale":{"domain":["实际结果","训练结果"],"range":["#231f20","#e8202a"]}}}}
]
}
]
}
]
}
